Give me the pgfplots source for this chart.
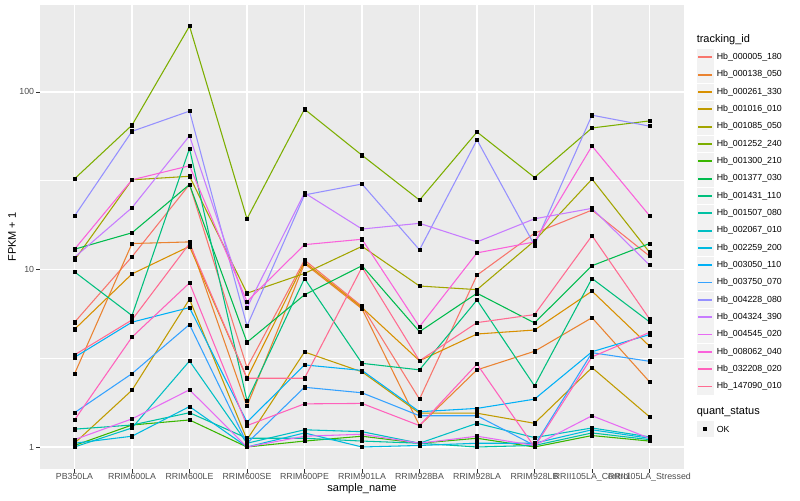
\documentclass[border=0pt]{standalone}
\usepackage{fontspec}
\setmainfont{Liberation Sans}
\usepackage{pgfplots}
\usepackage{pgfplotstable}
\pgfplotsset{compat=1.18}

% ggplot hue palette, 20 levels
\definecolor{c1}{HTML}{F8766D}
\definecolor{c2}{HTML}{EA8331}
\definecolor{c3}{HTML}{D89000}
\definecolor{c4}{HTML}{C09B00}
\definecolor{c5}{HTML}{A3A500}
\definecolor{c6}{HTML}{7CAE00}
\definecolor{c7}{HTML}{39B600}
\definecolor{c8}{HTML}{00BB4E}
\definecolor{c9}{HTML}{00BF7D}
\definecolor{c10}{HTML}{00C1A3}
\definecolor{c11}{HTML}{00BFC4}
\definecolor{c12}{HTML}{00BAE0}
\definecolor{c13}{HTML}{00B0F6}
\definecolor{c14}{HTML}{35A2FF}
\definecolor{c15}{HTML}{9590FF}
\definecolor{c16}{HTML}{C77CFF}
\definecolor{c17}{HTML}{E76BF3}
\definecolor{c18}{HTML}{FA62DB}
\definecolor{c19}{HTML}{FF62BC}
\definecolor{c20}{HTML}{FF6C91}
\definecolor{panelbg}{HTML}{EBEBEB}
\definecolor{keybg}{HTML}{F2F2F2}
\definecolor{gray30}{HTML}{4D4D4D}
\definecolor{gray20}{HTML}{333333}

% FPKM + 1, one row per sample, one column per tracking_id
\pgfplotstableread{
x s1 s2 s3 s4 s5 s6 s7 s8 s9 s10 s11 s12 s13 s14 s15 s16 s17 s18 s19 s20
0 5.04 2.58 4.6 1.05 11.3 32.4 1.02 13 9.7 1.26 1.0 1.05 3.2 1.56 20 11.7 1.1 13 1.42 3.3
1 11.8 14.0 9.44 2.09 32 65 1.33 16.1 5.5 1.33 1.28 1.15 5.05 2.59 60 22.3 1.44 32 4.16 5.2
2 30.1 14.3 13.5 6.8 33.5 235 1.42 30.1 48 1.56 3.05 1.69 6.1 4.9 78 56.6 2.1 38.4 8.4 14.0
3 2.8 1.7 2.44 1.1 7.35 19.3 1.0 3.89 1.82 1.12 1.05 1.0 1.38 1.05 4.8 6.1 1.0 6.6 1.32 2.44
4 11.3 10.8 11.0 3.43 9.5 80 1.08 7.2 8.9 1.12 1.25 1.2 2.9 2.17 26.3 27 1.15 13.8 1.75 2.44
5 6.2 6.0 6.1 2.65 13.5 44 1.15 10.5 2.96 1.08 1.22 1.0 2.7 2.02 30.3 16.9 1.18 14.8 1.76 10.3
6 1.86 1.32 3.06 1.55 8.07 24.6 1.05 4.46 2.72 1.05 1.05 1.02 1.58 1.5 12.9 18.2 1.05 4.76 1.32 3.06
7 9.29 2.72 4.33 1.55 7.7 59.5 1.12 7.35 6.73 1.0 1.36 1.05 1.65 1.5 53.7 14.3 1.15 12.4 2.93 5.02
8 16 3.46 4.56 1.36 14.5 33 1.0 5.0 2.21 1.02 1.13 1.05 1.86 1.02 13.7 19.3 1.02 14.3 1.0 5.57
9 21.6 5.35 7.55 2.8 32.3 62.7 1.16 10.5 8.9 1.2 1.28 1.25 3.44 3.4 74 22.1 1.5 49.6 3.22 15.5
10 11.9 2.33 3.7 1.48 12.5 68.7 1.08 14.0 5.07 1.1 1.14 1.12 4.3 3.04 64.2 10.6 1.12 20.1 4.42 5.27
}\data

\begin{document}
\begin{tikzpicture}[x=0.75pt,y=-0.75pt]
\useasboundingbox (0,0) rectangle (800,500);

\begin{axis}[
  at={(30pt,-351.75pt)}, anchor=south west,
  scale only axis, width=483pt, height=348pt,
  ymode=log, ymin=0.7516, ymax=309,
  xmin=-0.6, xmax=10.6,
  axis background/.style={fill=panelbg},
  axis line style={draw=none},
  xtick={0,...,10},
  xticklabels={PB350LA,RRIM600LA,RRIM600LE,RRIM600SE,RRIM600PE,RRIM901LA,RRIM928BA,RRIM928LA,RRIM928LB,RRII105LA\_Control,RRII105LA\_Stressed},
  ytick={1,10,100}, yticklabels={1,10,100},
  minor ytick={3.1623,31.623},
  grid=both,
  major grid style={white, line width=1.05pt},
  minor grid style={white, line width=0.5pt},
  tick align=outside, xtick pos=bottom, ytick pos=left,
  major tick length=2.75pt, minor tick length=0pt,
  tick style={gray20, line width=0.5pt},
  tick label style={font=\fontsize{6.6}{7}\selectfont, text=gray30},
  /pgf/number format/assume math mode=true,
  xticklabel style={inner sep=1.5pt, yshift=1pt},
  yticklabel style={inner sep=1.5pt},
]
\pgfplotsinvokeforeach{1,...,20}{
  \addplot[c#1, line width=0.8pt] table[x=x, y=s#1] {\data};
}
\pgfplotsinvokeforeach{1,...,20}{
  \addplot[only marks, mark=square*, mark size=1.2pt, black] table[x=x, y=s#1] {\data};
}
\end{axis}

% axis titles
\node[rotate=90, font=\fontsize{8.25}{9}\selectfont] at (12,237) {FPKM + 1};
\node[font=\fontsize{8.25}{9}\selectfont] at (362,488.5) {sample\_name};

% legend: tracking_id
\node[anchor=west, font=\fontsize{8.25}{9}\selectfont, inner sep=0pt] at (696.5,40) {tracking\_id};
\foreach \n/\lab [count=\i from 0] in {
  1/Hb\_000005\_180, 2/Hb\_000138\_050, 3/Hb\_000261\_330, 4/Hb\_001016\_010,
  5/Hb\_001085\_050, 6/Hb\_001252\_240, 7/Hb\_001300\_210, 8/Hb\_001377\_030,
  9/Hb\_001431\_110, 10/Hb\_001507\_080, 11/Hb\_002067\_010, 12/Hb\_002259\_200,
  13/Hb\_003050\_110, 14/Hb\_003750\_070, 15/Hb\_004228\_080, 16/Hb\_004324\_390,
  17/Hb\_004545\_020, 18/Hb\_008062\_040, 19/Hb\_032208\_020, 20/Hb\_147090\_010} {
  \pgfmathsetmacro\yc{57.3+17.33*\i}
  \fill[keybg] (696.5,\yc-8.4) rectangle (713.5,\yc+8.4);
  \fill[c\n] (698,\yc-0.9) rectangle (712,\yc+0.9);
  \node[anchor=west, font=\fontsize{6.6}{7}\selectfont, inner sep=0pt] at (716.5,\yc) {\lab};
}

% legend: quant_status
\node[anchor=west, font=\fontsize{8.25}{9}\selectfont, inner sep=0pt] at (696.5,412.3) {quant\_status};
\fill[keybg] (696.5,420.6) rectangle (713.5,437.4);
\fill[black] (703.3,427.3) rectangle (706.7,430.7);
\node[anchor=west, font=\fontsize{6.6}{7}\selectfont, inner sep=0pt] at (716.5,429) {OK};
\end{tikzpicture}
\end{document}
